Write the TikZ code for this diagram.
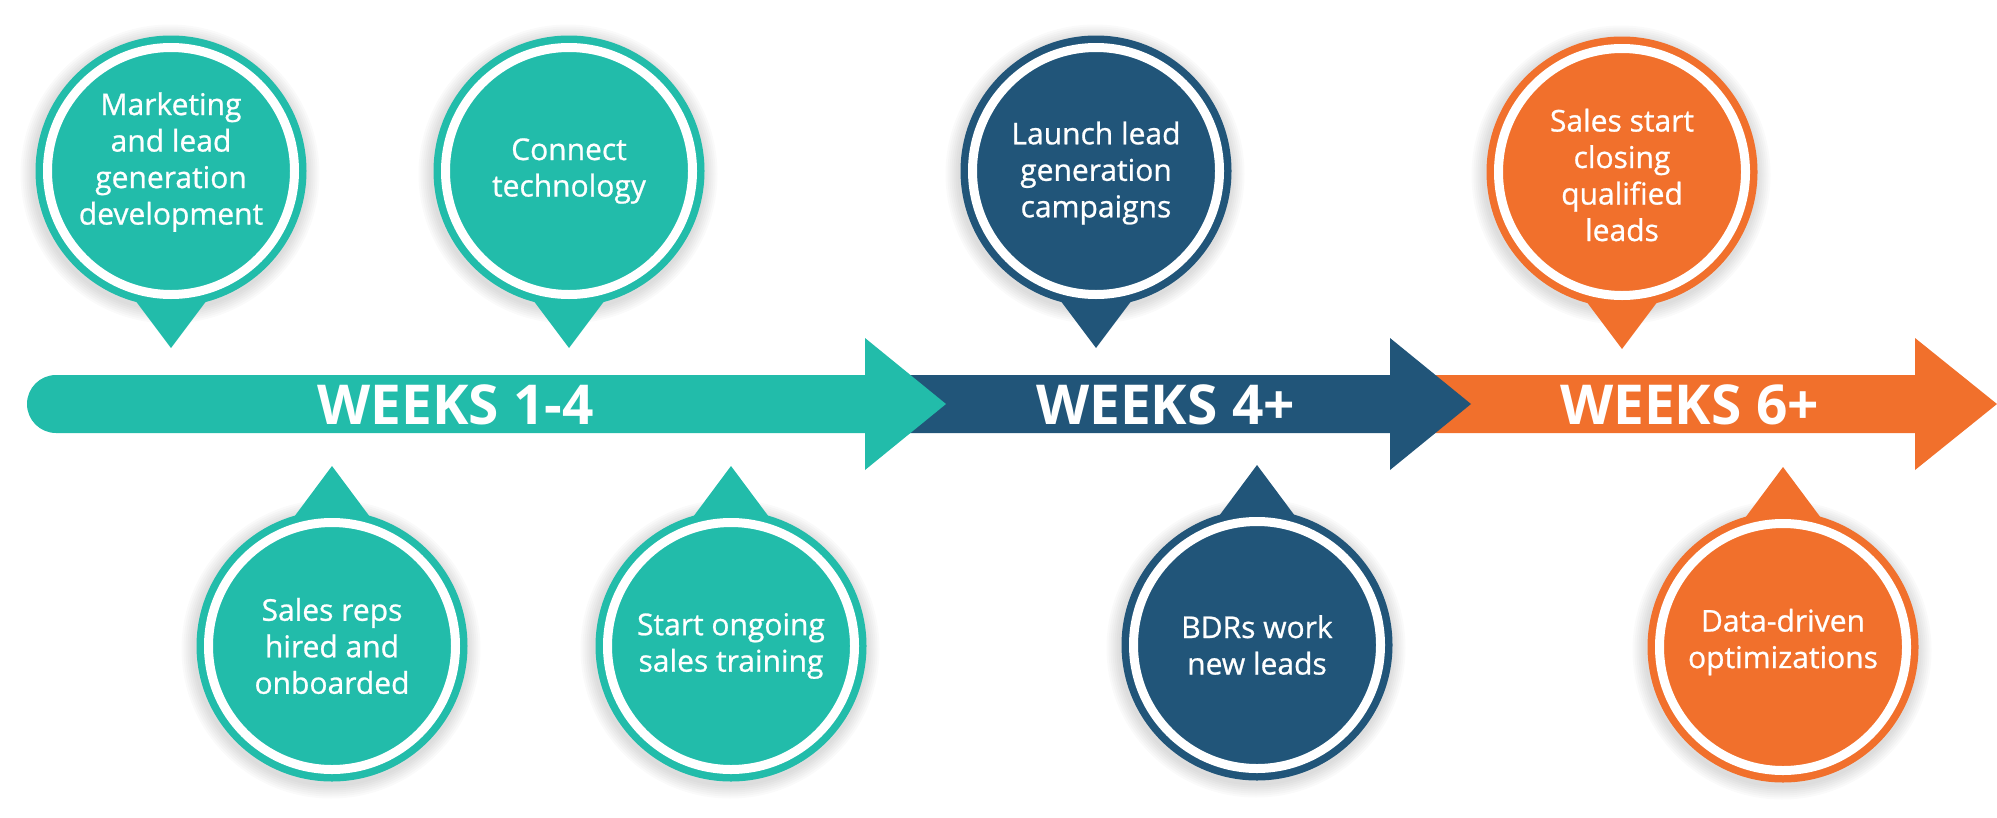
\documentclass[tikz,border=0pt]{standalone}
\usepackage{fontspec}
\setmainfont{Open Sans}
\newfontfamily\bubblefont{Open Sans}[FakeBold=0.8]
\usetikzlibrary{calc}
\definecolor{cteal}{RGB}{34,188,170}
\definecolor{cnavy}{RGB}{33,85,121}
\definecolor{corange}{RGB}{241,112,44}
\begin{document}
\begin{tikzpicture}[x=1pt,y=-1pt,
  bubble/.style={circle, minimum size=271pt, inner sep=0pt, fill=#1},
  ring/.style={draw=white, line width=9pt},
  btext/.style={text=white, align=center, inner sep=0pt, font=\bubblefont\fontsize{30}{36.5}\selectfont},
  wtext/.style={text=white, anchor=base, inner sep=0pt, font=\bfseries\fontsize{55}{60}\selectfont},
  halo/.style={fill=black, fill opacity=0.018},
  pointer/.style={fill=#1}]
\useasboundingbox (0,0) rectangle (1997,817);

% centres
\coordinate (p1) at (171,171);
\coordinate (p2) at (569,171);
\coordinate (p5) at (1096,171);
\coordinate (p7) at (1622,172);
\coordinate (p3) at (332,646);
\coordinate (p4) at (731,646);
\coordinate (p6) at (1257,645);
\coordinate (p8) at (1783,647);

% timeline bars (back to front)
\fill[corange] (1430,375) -- (1915,375) -- (1915,338) -- (1997,404) -- (1915,470) -- (1915,433) -- (1430,433) -- cycle;
\fill[cnavy] (900,375) -- (1390,375) -- (1390,338) -- (1471,404) -- (1390,470) -- (1390,433) -- (900,433) -- cycle;
\fill[cteal] (56,404) circle[radius=29pt];
\fill[cteal] (56,375) -- (865,375) -- (865,338) -- (946,404) -- (865,470) -- (865,433) -- (56,433) -- cycle;

% soft shadows
\foreach \p in {p1,p2,p3,p4,p5,p6,p7,p8}{
  \foreach \k in {1,...,7}{
    \fill[halo] ($(\p)+(-1,3)$) circle[radius={(135.5+2*\k)*1pt}];
  }
}

% bubbles
\node[bubble=cteal] (c1) at (p1) {};
\node[bubble=cteal] (c2) at (p2) {};
\node[bubble=cteal] (c3) at (p3) {};
\node[bubble=cteal] (c4) at (p4) {};
\node[bubble=cnavy] (c5) at (p5) {};
\node[bubble=cnavy] (c6) at (p6) {};
\node[bubble=corange] (c7) at (p7) {};
\node[bubble=corange] (c8) at (p8) {};

% pointers
\fill[pointer=cteal] ($(c1.center)+(0,177)$) -- ($(c1.center)+(-36,129)$) -- ($(c1.center)+(36,129)$) -- cycle;
\fill[pointer=cteal] ($(c2.center)+(0,177)$) -- ($(c2.center)+(-36,129)$) -- ($(c2.center)+(36,129)$) -- cycle;
\fill[pointer=cnavy] ($(c5.center)+(0,177)$) -- ($(c5.center)+(-36,129)$) -- ($(c5.center)+(36,129)$) -- cycle;
\fill[pointer=corange] ($(c7.center)+(0,177)$) -- ($(c7.center)+(-36,129)$) -- ($(c7.center)+(36,129)$) -- cycle;
\fill[pointer=cteal] ($(c3.center)+(0,-180)$) -- ($(c3.center)+(-38,-129)$) -- ($(c3.center)+(38,-129)$) -- cycle;
\fill[pointer=cteal] ($(c4.center)+(0,-180)$) -- ($(c4.center)+(-38,-129)$) -- ($(c4.center)+(38,-129)$) -- cycle;
\fill[pointer=cnavy] ($(c6.center)+(0,-180)$) -- ($(c6.center)+(-38,-129)$) -- ($(c6.center)+(38,-129)$) -- cycle;
\fill[pointer=corange] ($(c8.center)+(0,-180)$) -- ($(c8.center)+(-38,-129)$) -- ($(c8.center)+(38,-129)$) -- cycle;

% white rings
\foreach \c in {c1,c2,c3,c4,c5,c6,c7,c8}{
  \draw[ring] (\c.center) circle[radius=123.5pt];
}

% bubble texts
\node[btext] (t1) at ($(c1.center)+(0,-9)$) {Marketing\\and lead\\generation\\development};
\node[btext] (t2) at (c2.center) {Connect\\technology};
\node[btext] (t5) at ($(c5.center)+(0,2)$) {Launch lead\\generation\\campaigns};
\node[btext] (t7) at ($(c7.center)+(0,3)$) {Sales start\\closing\\qualified\\leads};
\node[btext] (t3) at (c3.center) {Sales reps\\hired and\\onboarded};
\node[btext] (t4) at (c4.center) {Start ongoing\\sales training};
\node[btext] (t6) at (c6.center) {BDRs work\\new leads};
\node[btext] (t8) at ($(c8.center)+(0,-5)$) {Data-driven\\optimizations};

% phase labels
\node[wtext] (w1) at (455.5,424) {WEEKS 1-4};
\node[wtext] (w2) at (1165.5,424) {WEEKS 4+};
\node[wtext] (w3) at (1689.5,424) {WEEKS 6+};
\end{tikzpicture}
\end{document}
